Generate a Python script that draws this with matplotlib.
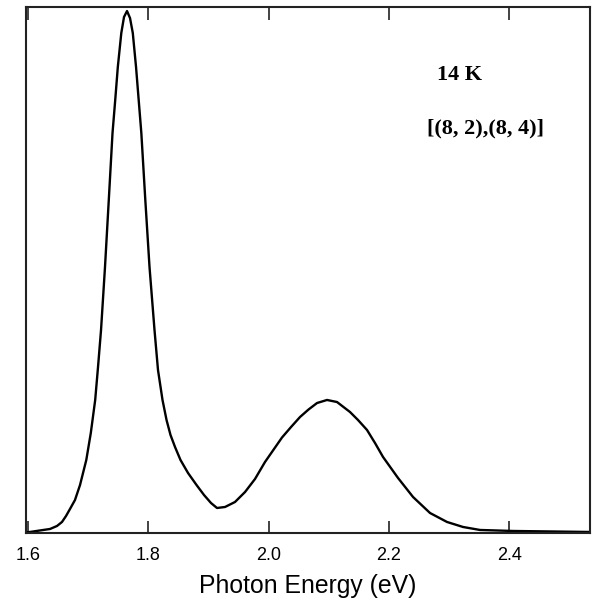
import matplotlib
matplotlib.use("Agg")
import matplotlib.pyplot as plt

# Photon energy (eV) and normalized PL intensity
energy = [1.5967, 1.6033, 1.6200, 1.6366, 1.6482, 1.6565, 1.6632, 1.6698, 1.6781,
          1.6865, 1.6969, 1.7044, 1.7117, 1.7164, 1.7214, 1.7280, 1.7343, 1.7405,
          1.7450, 1.7493, 1.7551, 1.7596, 1.7646, 1.7696, 1.7742, 1.7796, 1.7840,
          1.7884, 1.7950, 1.8020, 1.8103, 1.8161, 1.8236, 1.8303, 1.8369, 1.8444,
          1.8535, 1.8660, 1.8801, 1.8926, 1.9042, 1.9142, 1.9275, 1.9441, 1.9608,
          1.9774, 1.9940, 2.0223, 2.0373, 2.0522, 2.0664, 2.0805, 2.0971, 2.1137,
          2.1353, 2.1486, 2.1636, 2.1769, 2.1902, 2.2151, 2.2401, 2.2683, 2.2966,
          2.3232, 2.3515, 2.4063, 2.4678, 2.5343]
intensity = [0.0013, 0.0019, 0.0048, 0.0076, 0.0133, 0.0209, 0.0323, 0.0456, 0.0627,
             0.0913, 0.1388, 0.1901, 0.2529, 0.3156, 0.3859, 0.5057, 0.6333, 0.7605,
             0.8232, 0.8859, 0.9506, 0.9810, 0.9924, 0.9790, 0.9506, 0.8859, 0.8232,
             0.7605, 0.6333, 0.5057, 0.3859, 0.3099, 0.2529, 0.2148, 0.1863, 0.1635,
             0.1388, 0.1141, 0.0913, 0.0722, 0.0570, 0.0475, 0.0494, 0.0589, 0.0779,
             0.1027, 0.1350, 0.1816, 0.2015, 0.2205, 0.2348, 0.2471, 0.2529, 0.2490,
             0.2300, 0.2148, 0.1958, 0.1710, 0.1445, 0.1046, 0.0684, 0.0380, 0.0209,
             0.0114, 0.0057, 0.0038, 0.0029, 0.0019]

xticks = [1.6, 1.8, 2.0, 2.2, 2.4]
xticklabels = ["1.6", "1.8", "2.0", "2.2", "2.4"]
xlabel = "Photon Energy (eV)"
label_temp = "14 K"
label_chir = "[(8, 2),(8, 4)]"

fig = plt.figure(figsize=(5.94, 6.06), dpi=100)
ax = fig.add_axes([0.0438, 0.1205, 0.9495, 0.8679])

ax.plot(energy, intensity, color="black", lw=1.7, solid_joinstyle="round")

ax.set_xlim(1.5967, 2.5343)
ax.set_ylim(0, 1.0)
ax.set_xticks(xticks)
ax.set_xticklabels(xticklabels, family="Liberation Sans", fontsize=13)
ax.set_yticks([])
ax.tick_params(axis="x", direction="in", length=9, width=1.2, top=True,
               bottom=True, pad=10, color="#222222")
for s in ax.spines.values():
    s.set_linewidth(1.5)
    s.set_color("#222222")

ax.set_xlabel(xlabel, family="Liberation Sans", fontsize=17.8, labelpad=7)

ax.text(2.28, 0.871, label_temp, family="Liberation Serif", fontweight="bold",
        fontsize=16, va="center", ha="left")
ax.text(2.263, 0.770, label_chir, family="Liberation Serif", fontweight="bold",
        fontsize=16, va="center", ha="left")

fig.savefig("out.png", dpi=100)
